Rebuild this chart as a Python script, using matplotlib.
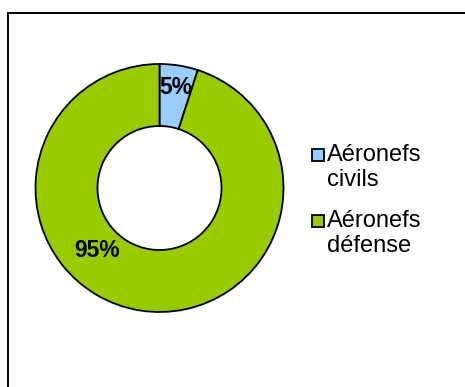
import numpy as np
import matplotlib
matplotlib.use("Agg")
import matplotlib.pyplot as plt
from matplotlib.patches import Rectangle
from matplotlib.lines import Line2D

categories = ["Aéronefs\ncivils", "Aéronefs\ndéfense"]
shares = [5, 95]
colors = ["#99CCFF", "#99CC00"]

W, H = 465, 387
fig = plt.figure(figsize=(W / 100, H / 100), dpi=100)
fig.patch.set_facecolor("white")


def fx(px):
    return px / W


def fy(py):
    return 1 - py / H


# chart frame (top and left edges visible)
fig.add_artist(Line2D([fx(7.5), fx(7.5)], [0, fy(12.5)], transform=fig.transFigure,
                      color="black", lw=1.4))
fig.add_artist(Line2D([fx(7.5), 1], [fy(12.5), fy(12.5)], transform=fig.transFigure,
                      color="black", lw=1.4))

cx, cy, r = 159.5, 387 - 188, 124
ax = fig.add_axes([(cx - r) / W, (cy - r) / H, 2 * r / W, 2 * r / H])
wedges, _ = ax.pie(shares, colors=colors, startangle=90, counterclock=False,
                   radius=1.0,
                   wedgeprops=dict(width=0.5, edgecolor="black", linewidth=1.3))
for w in wedges:
    w.set_clip_on(False)
ax.set_xlim(-1, 1)
ax.set_ylim(-1, 1)
ax.set_aspect("equal")
ax.axis("off")

# percentage labels
label_pos = [(0.82, 81), (0.71, 225)]
total = sum(shares)
for v, (rr, ang) in zip(shares, label_pos):
    a = np.deg2rad(ang)
    ax.text(rr * np.cos(a), rr * np.sin(a), f"{round(100 * v / total)}%",
            ha="center", va="center", fontsize=16.5, fontweight="bold",
            family="Liberation Sans", color="black")

# legend: square swatch aligned with the first line of each label
entry_top = 161      # baseline of the first line of the first entry (px)
entry_step = 66
line_step = 24.5
for i, (lab, c) in enumerate(zip(categories, colors)):
    base = entry_top + i * entry_step
    fig.add_artist(Rectangle((fx(311.5), fy(base)), 12.5 / W, 12.5 / H,
                             transform=fig.transFigure, facecolor=c,
                             edgecolor="black", linewidth=1.3))
    for j, line in enumerate(lab.split("\n")):
        fig.text(fx(327), fy(base + j * line_step), line, ha="left", va="baseline",
                 fontsize=17, family="Liberation Sans", color="black")

fig.savefig("out.png", dpi=100)
